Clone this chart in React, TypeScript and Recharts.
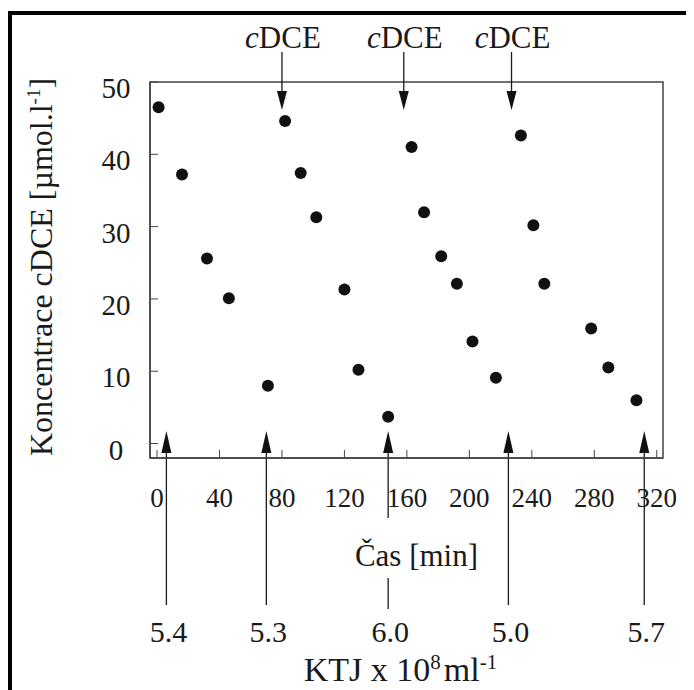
import React from "react";
import {
  ScatterChart,
  Scatter,
  XAxis,
  YAxis,
  ReferenceLine,
  ReferenceArea,
} from "recharts";

// time [min] and cDCE concentration [umol/l]
const times = [1, 16, 32, 46, 71, 82, 92, 102, 120, 129, 148, 163, 171, 182, 192, 202, 217, 233, 241, 248, 278, 289, 307];
const conc = [46.5, 37.2, 25.6, 20.1, 8.0, 44.6, 37.4, 31.3, 21.3, 10.2, 3.7, 41.0, 32.0, 25.9, 22.1, 14.1, 9.1, 42.6, 30.2, 22.1, 15.9, 10.5, 6.0];

const xTicks = [0, 40, 80, 120, 160, 200, 240, 280, 320];
const yTicks = [0, 10, 20, 30, 40, 50];

// cDCE additions (top arrows) and cell additions (bottom arrows)
const cdceDoses = [80, 158, 227];
const ktjTimes = [6, 70, 148, 225, 312];
const ktjValues = ["5.4", "5.3", "6.0", "5.0", "5.7"];

const points = times.map((t, i) => ({ t, c: conc[i] }));

const FONT = '"Liberation Serif", "Times New Roman", serif';
const INK = "#1a1a1a";

const DownArrow = (p: any) => {
  const x = p.x1;
  const top = Math.min(p.y1, p.y2);
  return (
    <g>
      <text x={x + 1} y={top - 34} textAnchor="middle" fontFamily={FONT} fontSize={31} fill={INK}>
        <tspan fontStyle="italic">c</tspan>DCE
      </text>
      <line x1={x} x2={x} y1={top - 30} y2={top + 12} stroke={INK} strokeWidth={1.3} />
      <polygon points={`${x - 5},${top + 9} ${x + 5},${top + 9} ${x},${top + 28}`} fill="#111" />
    </g>
  );
};

const makeUpArrow = (label: string, gap: boolean) => (p: any) => {
  const x = p.x1;
  const bottom = Math.max(p.y1, p.y2);
  return (
    <g>
      <polygon points={`${x - 5},${bottom - 5} ${x + 5},${bottom - 5} ${x},${bottom - 27}`} fill="#111" />
      {gap ? (
        <>
          <line x1={x} x2={x} y1={bottom - 8} y2={bottom + 60} stroke={INK} strokeWidth={1.3} />
          <line x1={x} x2={x} y1={bottom + 120} y2={bottom + 151} stroke={INK} strokeWidth={1.3} />
        </>
      ) : (
        <line x1={x} x2={x} y1={bottom - 8} y2={bottom + 147} stroke={INK} strokeWidth={1.3} />
      )}
      <text x={x + 2} y={bottom + 184} textAnchor="middle" fontFamily={FONT} fontSize={30} fill={INK}>
        {label}
      </text>
    </g>
  );
};

const XTick = (p: any) => (
  <text x={p.x} y={p.y + 49} textAnchor="middle" fontFamily={FONT} fontSize={27} fill={INK}>
    {p.payload.value}
  </text>
);

const YTick = (p: any) => (
  <text x={p.x - 34} y={p.y + 16} textAnchor="middle" fontFamily={FONT} fontSize={29} fill={INK}>
    {p.payload.value}
  </text>
);

const XLabels = (p: any) => {
  const vb = p.viewBox;
  const cx = vb.x + vb.width / 2;
  return (
    <g fontFamily={FONT} fill={INK}>
      <text x={cx + 10} y={vb.y + 108} textAnchor="middle" fontSize={31}>
        Čas [min]
      </text>
      <text x={cx - 6} y={vb.y + 223} textAnchor="middle" fontSize={34}>
        KTJ x 10
        <tspan dy={-12} fontSize={21}>8</tspan>
        <tspan dy={12} dx={3}>ml</tspan>
        <tspan dy={-12} fontSize={21}>-1</tspan>
      </text>
    </g>
  );
};

const YLabel = (p: any) => {
  const vb = p.viewBox;
  const x = vb.x - 38;
  const y = vb.y + vb.height / 2 - 3;
  return (
    <text
      x={x}
      y={y}
      transform={`rotate(-90 ${x} ${y})`}
      textAnchor="middle"
      fontFamily={FONT}
      fontSize={32}
      fill={INK}
    >
      Koncentrace cDCE [µmol.l
      <tspan dy={-12} fontSize={19}>-1</tspan>
      <tspan dy={12}>]</tspan>
    </text>
  );
};

export default function App() {
  return (
    <div style={{ position: "relative", width: 686, height: 682, background: "#fff" }}>
      <ScatterChart width={686} height={682} margin={{ top: 74, right: 31, bottom: 202, left: 82 }}>
        <XAxis
          type="number"
          dataKey="t"
          domain={[-4.5, 324]}
          ticks={xTicks}
          height={30}
          tickSize={-8}
          tickMargin={8}
          tick={<XTick />}
          axisLine={{ stroke: "#444", strokeWidth: 1.5 }}
          tickLine={{ stroke: "#444" }}
          label={<XLabels />}
        />
        <YAxis
          type="number"
          dataKey="c"
          domain={[-2, 50]}
          ticks={yTicks}
          width={60}
          tickSize={-8}
          tickMargin={8}
          tick={<YTick />}
          axisLine={{ stroke: "#444", strokeWidth: 1.5 }}
          tickLine={{ stroke: "#444" }}
          label={<YLabel />}
        />
        <ReferenceArea x1={-4.5} x2={324} y1={-2} y2={50} fill="none" stroke="#444" strokeWidth={1.5} />
        {cdceDoses.map((d) => (
          <ReferenceLine key={`c${d}`} x={d} shape={<DownArrow />} />
        ))}
        {ktjTimes.map((t, i) => (
          <ReferenceLine key={`k${t}`} x={t} shape={makeUpArrow(ktjValues[i], i === 2)} />
        ))}
        <Scatter
          data={points}
          isAnimationActive={false}
          shape={(p: any) => <circle cx={p.cx} cy={p.cy} r={6} fill="#111" />}
        />
      </ScatterChart>
      <div
        style={{
          position: "absolute",
          left: 0,
          top: 3,
          right: 0,
          bottom: 0,
          borderLeft: "4px solid #000",
          borderTop: "4px solid #000",
          pointerEvents: "none",
        }}
      />
    </div>
  );
}
